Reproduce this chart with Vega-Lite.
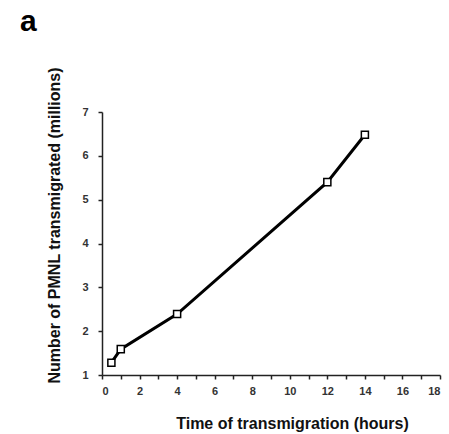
{
  "$schema": "https://vega.github.io/schema/vega-lite/v6.json",
  "autosize": "none",
  "padding": {"left": 102, "top": 112, "right": 9, "bottom": 59},
  "width": 338,
  "height": 263,
  "background": "white",
  "title": {
    "text": "a",
    "anchor": "start",
    "frame": "group",
    "font": "Liberation Sans",
    "fontSize": 30,
    "fontWeight": "bold",
    "color": "black",
    "baseline": "alphabetic",
    "offset": 6,
    "dx": -82
  },
  "data": {
    "values": [
      {"time": 0.5, "pmnl": 1.28},
      {"time": 1, "pmnl": 1.59},
      {"time": 4, "pmnl": 2.39},
      {"time": 12, "pmnl": 5.4},
      {"time": 14, "pmnl": 6.48}
    ]
  },
  "config": {
    "view": {"stroke": null},
    "axis": {
      "grid": false,
      "domainColor": "#222",
      "domainWidth": 1.5,
      "tickColor": "#222",
      "tickWidth": 1.5,
      "tickSize": 4,
      "labelFont": "Liberation Sans",
      "labelFontSize": 11,
      "labelFontWeight": "bold",
      "labelColor": "#333",
      "titleFont": "Liberation Sans",
      "titleFontSize": 16,
      "titleFontWeight": "bold",
      "titleColor": "#111"
    }
  },
  "encoding": {
    "x": {
      "field": "time",
      "type": "quantitative",
      "scale": {"domain": [0, 18], "nice": false, "zero": false},
      "axis": {
        "title": "Time of transmigration (hours)",
        "values": [0,1,2,3,4,5,6,7,8,9,10,11,12,13,14,15,16,17,18],
        "format": "d",
        "labelExpr": "datum.value % 2 == 0 ? datum.label : ''",
        "labelPadding": 6,
        "titleX": 190,
        "titleY": 53,
        "titleBaseline": "alphabetic"
      }
    },
    "y": {
      "field": "pmnl",
      "type": "quantitative",
      "scale": {"domain": [1, 7], "nice": false, "zero": false},
      "axis": {
        "title": "Number of PMNL transmigrated (millions)",
        "values": [1,1.5,2,2.5,3,3.5,4,4.5,5,5.5,6,6.5,7],
        "format": "d",
        "labelExpr": "datum.value % 1 == 0 ? datum.label : ''",
        "labelPadding": 10,
        "titleX": -43,
        "titleY": 113,
        "titleBaseline": "alphabetic"
      }
    }
  },
  "layer": [
    {"mark": {"type": "line", "color": "black", "strokeWidth": 3}},
    {"mark": {"type": "point", "shape": "square", "filled": true, "fill": "white", "stroke": "black", "strokeWidth": 1.5, "size": 50, "opacity": 1}}
  ]
}
